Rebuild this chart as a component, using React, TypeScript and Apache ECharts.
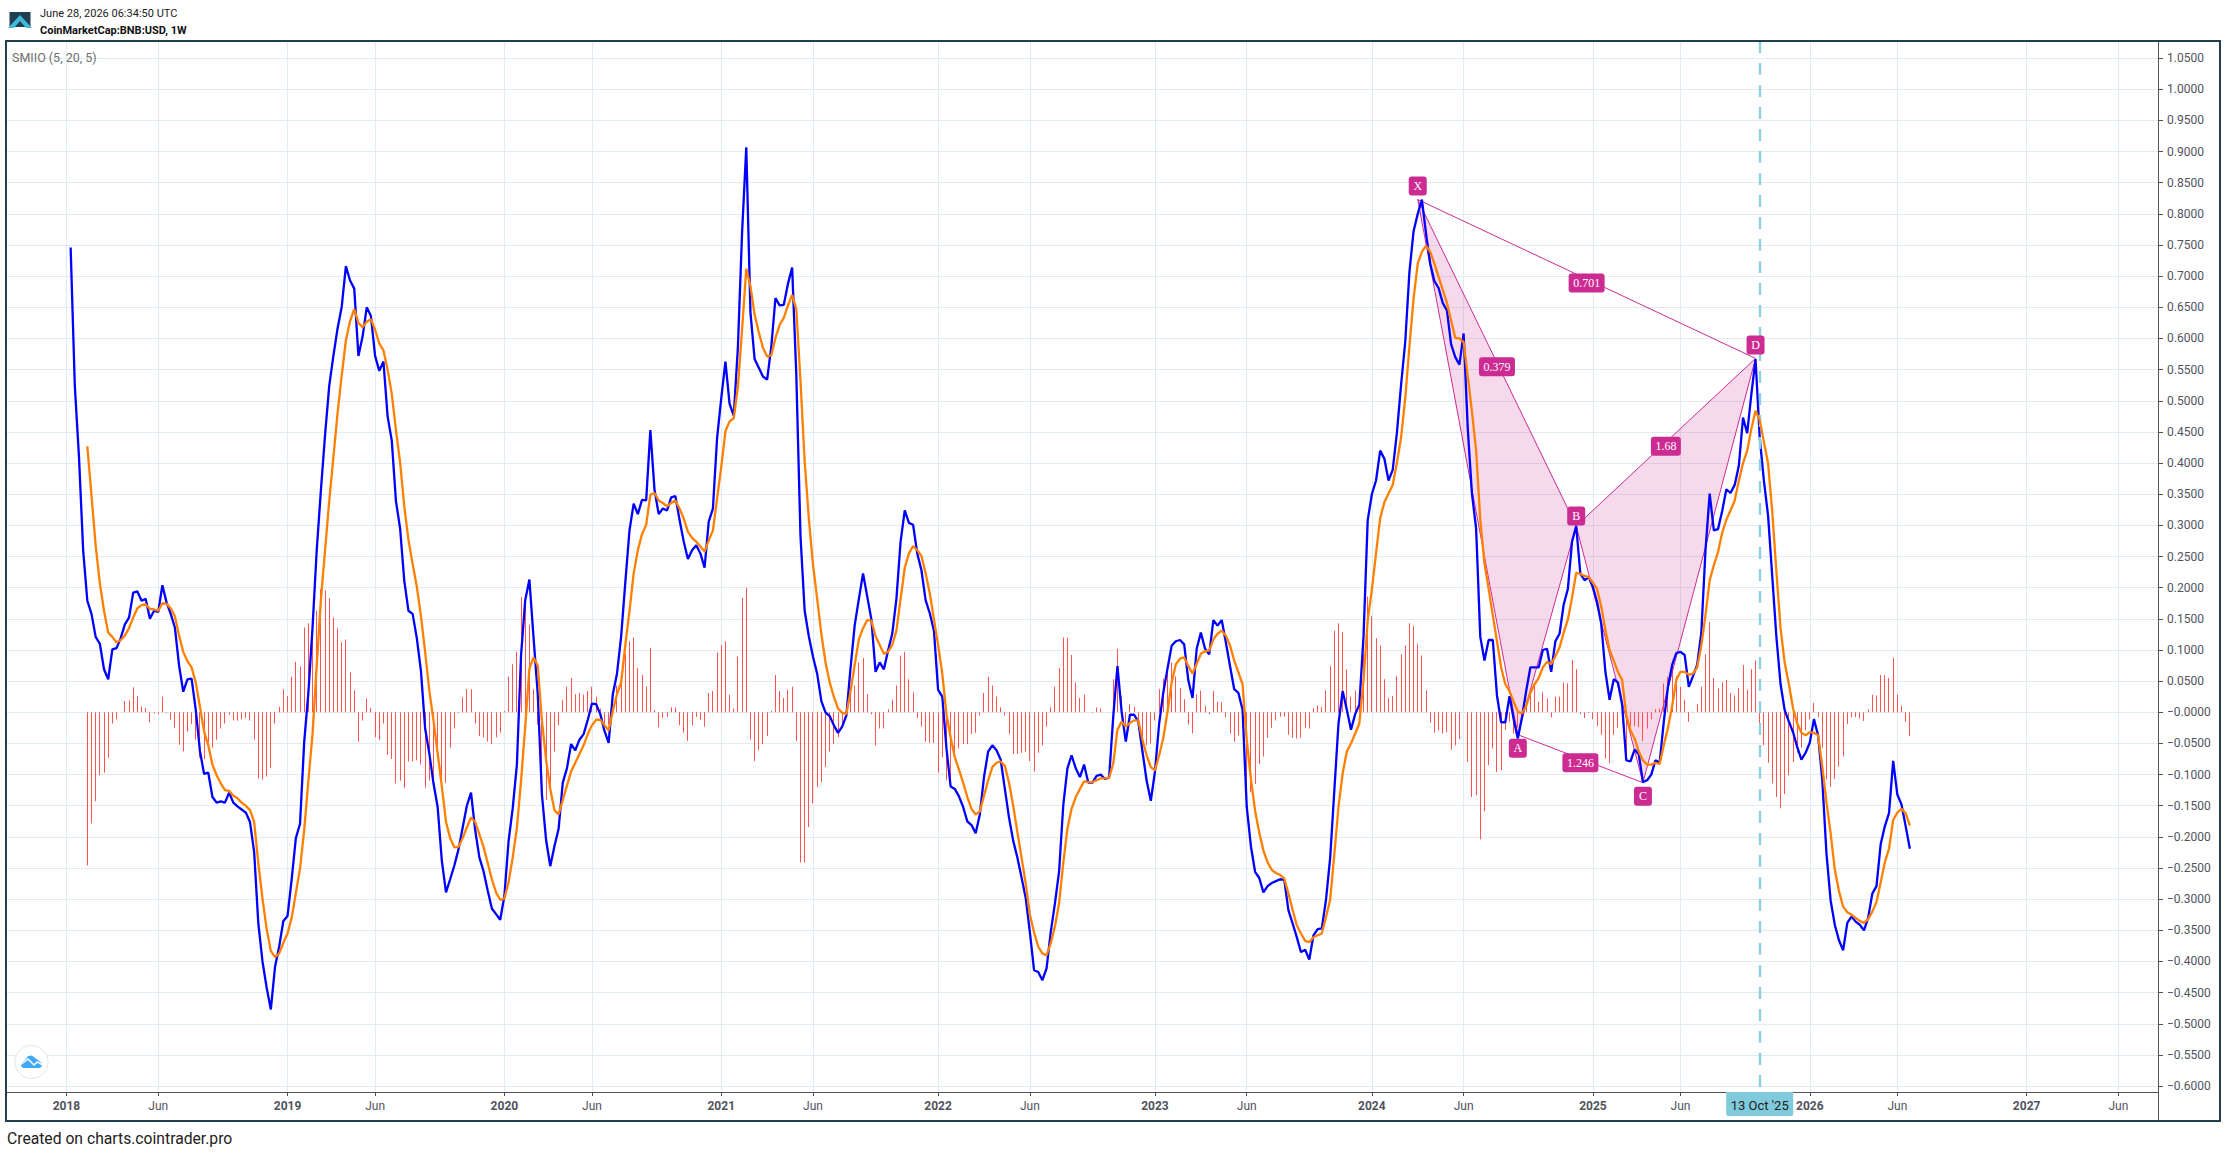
import React, { useEffect, useRef } from "react";
import * as echarts from "echarts";

// Weekly bars: first Monday shown on the axis is 25 Sep 2017, 516 bars in the time scale
const firstWeek = "2017-09-25";
const weekCount = 516;
const blueStart = 15;
const signalStart = 19;

const tickDates = ["2018-01-01","2018-06-04","2019-01-07","2019-06-03","2020-01-06","2020-06-01","2021-01-04","2021-06-07","2022-01-03","2022-06-06","2023-01-02","2023-06-05","2024-01-01","2024-06-03","2025-01-06","2025-06-02","2026-01-05","2026-06-01","2027-01-04","2027-06-07"];
const tickLabels = ["2018","Jun","2019","Jun","2020","Jun","2021","Jun","2022","Jun","2023","Jun","2024","Jun","2025","Jun","2026","Jun","2027","Jun"];
const yTicks = [1.05,1,0.95,0.9,0.85,0.8,0.75,0.7,0.65,0.6,0.55,0.5,0.45,0.4,0.35,0.3,0.25,0.2,0.15,0.1,0.05,0,-0.05,-0.1,-0.15,-0.2,-0.25,-0.3,-0.35,-0.4,-0.45,-0.5,-0.55,-0.6];

const smiValues = [
.746,.524,.41,.26,.179,
.158,.121,.11,.069,.053,.101,.103,.119,.141,.152,
.192,.194,.179,.182,.15,.163,.161,.204,.176,.158,
.136,.075,.033,.053,.054,.004,-.062,-.099,-.097,-.136,
-.145,-.143,-.145,-.129,-.145,-.151,-.156,-.161,-.176,-.224,
-.339,-.4,-.442,-.477,-.409,-.376,-.335,-.327,-.268,-.202,
-.179,-.048,.031,.136,.26,.356,.445,.524,.572,.616,
.651,.716,.693,.68,.572,.603,.65,.636,.572,.548,
.563,.475,.436,.339,.295,.211,.163,.158,.119,.066,
-.026,-.066,-.114,-.152,-.238,-.289,-.268,-.246,-.22,-.185,
-.15,-.129,-.189,-.233,-.255,-.286,-.315,-.324,-.333,-.295,
-.207,-.154,-.084,.092,.18,.213,.119,.03,-.132,-.205,
-.247,-.215,-.187,-.113,-.09,-.051,-.061,-.044,-.035,-.012,
.014,.013,-.003,-.03,-.049,.029,.062,.122,.209,.292,
.335,.318,.341,.34,.453,.357,.318,.327,.324,.345,
.347,.309,.274,.246,.26,.268,.255,.232,.306,.327,
.44,.504,.563,.495,.476,.587,.771,.907,.642,.567,
.553,.539,.534,.587,.665,.653,.654,.688,.714,.541,
.283,.163,.122,.089,.062,.018,0,-.006,-.021,-.033,
-.023,-.005,.071,.14,.182,.223,.186,.149,.065,.08,
.069,.099,.126,.182,.274,.324,.304,.301,.255,.228,
.18,.159,.131,.036,.025,-.058,-.119,-.123,-.135,-.152,
-.175,-.181,-.194,-.164,-.104,-.063,-.053,-.061,-.076,-.123,
-.169,-.206,-.233,-.265,-.298,-.353,-.414,-.417,-.43,-.411,
-.353,-.307,-.256,-.15,-.09,-.069,-.09,-.104,-.084,-.113,
-.113,-.102,-.1,-.107,-.105,-.006,.074,.001,-.047,-.004,
-.004,-.015,-.063,-.11,-.142,-.095,-.018,.032,.07,.107,
.114,.116,.109,.051,.023,.102,.128,.102,.093,.148,
.139,.148,.112,.074,.037,.031,.004,-.152,-.215,-.256,
-.266,-.289,-.279,-.274,-.271,-.268,-.269,-.318,-.339,-.361,
-.385,-.381,-.397,-.358,-.348,-.347,-.301,-.234,-.126,-.018,
.034,.004,-.028,-.003,.012,.121,.308,.35,.372,.42,
.407,.372,.389,.448,.525,.594,.706,.772,.8,.823,
.768,.72,.692,.681,.657,.645,.591,.57,.558,.608,
.455,.351,.295,.121,.083,.116,.116,.027,-.016,-.016,
.026,-.011,-.042,-.008,.034,.072,.072,.072,.1,.102,
.065,.114,.126,.173,.198,.274,.299,.222,.212,.217,
.201,.177,.142,.065,.02,.053,.048,.013,-.077,-.079,
-.06,-.067,-.112,-.109,-.1,-.077,-.081,-.015,.041,.076,
.095,.097,.092,.041,.058,.076,.128,.26,.351,.292,
.294,.323,.358,.352,.365,.396,.473,.448,.511,.567,
.441,.372,.316,.219,.121,.045,.003,-.015,-.032,-.056,
-.076,-.065,-.049,-.011,-.037,-.108,-.226,-.302,-.341,-.366,
-.382,-.338,-.328,-.336,-.341,-.35,-.33,-.291,-.279,-.212,
-.183,-.162,-.078,-.132,-.148,-.183,-.219];

const signalValues = [
.427,
.348,.268,.207,.163,.128,.121,.112,.116,.123,.135,
.152,.167,.172,.173,.166,.165,.163,.175,.174,.167,
.154,.123,.097,.082,.072,.048,.009,-.031,-.053,-.084,
-.101,-.114,-.125,-.126,-.134,-.138,-.145,-.15,-.157,-.176,
-.242,-.299,-.348,-.383,-.393,-.387,-.37,-.355,-.33,-.29,
-.251,-.189,-.11,-.035,.075,.18,.26,.339,.409,.48,
.541,.597,.628,.647,.625,.618,.627,.631,.614,.592,
.581,.55,.511,.453,.401,.33,.277,.238,.202,.154,
.097,.035,-.013,-.066,-.119,-.176,-.202,-.217,-.216,-.202,
-.185,-.169,-.176,-.196,-.216,-.242,-.268,-.289,-.301,-.299,
-.273,-.233,-.185,-.11,-.022,.07,.088,.075,-.013,-.076,
-.123,-.157,-.164,-.141,-.118,-.095,-.081,-.067,-.053,-.035,
-.021,-.012,-.012,-.021,-.029,.002,.029,.048,.108,.163,
.223,.26,.286,.301,.349,.352,.34,.336,.331,.336,
.34,.327,.311,.29,.28,.274,.266,.258,.276,.292,
.343,.394,.451,.467,.472,.523,.615,.712,.684,.638,
.61,.585,.571,.573,.601,.622,.633,.653,.67,.647,
.532,.403,.311,.237,.182,.126,.08,.048,.025,.006,
-.001,-.003,.034,.076,.117,.135,.148,.147,.122,.108,
.094,.097,.108,.131,.182,.232,.255,.267,.26,.251,
.223,.191,.149,.108,.062,-.003,-.04,-.072,-.092,-.113,
-.136,-.155,-.164,-.159,-.134,-.109,-.088,-.081,-.079,-.086,
-.113,-.15,-.192,-.233,-.275,-.325,-.353,-.376,-.387,-.39,
-.371,-.344,-.307,-.242,-.187,-.155,-.136,-.123,-.111,-.112,
-.112,-.109,-.106,-.106,-.105,-.082,-.028,-.015,-.023,-.017,
-.013,-.013,-.044,-.069,-.088,-.093,-.069,-.041,.001,.048,
.077,.086,.088,.074,.062,.078,.094,.098,.099,.117,
.126,.131,.123,.107,.083,.064,.045,-.044,-.107,-.158,
-.193,-.222,-.241,-.253,-.258,-.261,-.267,-.291,-.317,-.342,
-.355,-.367,-.369,-.361,-.358,-.355,-.329,-.301,-.228,-.152,
-.098,-.063,-.05,-.034,-.018,.051,.147,.197,.255,.312,
.337,.351,.365,.4,.441,.504,.587,.664,.72,.739,
.749,.739,.72,.699,.678,.657,.629,.601,.6,.594,
.539,.483,.42,.309,.239,.198,.156,.114,.072,.045,
.034,.017,.001,-.002,.01,.031,.045,.055,.072,.081,
.077,.09,.104,.128,.149,.184,.224,.222,.219,.217,
.208,.198,.17,.132,.1,.083,.065,.052,-.004,-.029,
-.042,-.063,-.077,-.084,-.084,-.081,-.083,-.053,-.025,.01,
.052,.065,.065,.06,.062,.072,.107,.156,.212,.236,
.257,.288,.309,.324,.34,.372,.4,.42,.455,.484,
.469,.434,.4,.323,.226,.135,.079,.045,.006,-.018,
-.033,-.037,-.032,-.033,-.037,-.087,-.144,-.194,-.252,-.287,
-.312,-.321,-.325,-.33,-.335,-.338,-.332,-.32,-.305,-.273,
-.241,-.219,-.173,-.161,-.155,-.162,-.182];

const histogramValues = [
-.246,-.178,-.143,-.101,-.097,-.073,-.018,-.011,0,.018,.019,
.04,.026,.009,.007,-.016,-.002,-.003,.025,-.001,-.012,
-.025,-.052,-.063,-.031,-.019,-.044,-.073,-.075,-.048,-.057,
-.044,-.026,-.018,-.004,-.013,-.013,-.011,-.009,-.013,-.044,
-.106,-.108,-.103,-.09,-.018,.009,.037,.026,.057,.081,
.073,.136,.143,.114,.163,.198,.196,.183,.152,.135,
.112,.117,.064,.035,-.047,-.013,.022,.007,-.04,-.044,
-.018,-.068,-.075,-.114,-.11,-.121,-.079,-.079,-.077,-.084,
-.121,-.11,-.119,-.066,-.117,-.113,-.057,-.026,-.001,.024,
.037,.037,-.018,-.038,-.04,-.047,-.051,-.04,-.033,.002,
.057,.077,.097,.185,.189,.141,.037,-.02,-.09,-.141,
-.123,-.063,-.021,.02,.041,.055,.029,.031,.028,.034,
.041,.025,.006,-.02,-.02,.029,.043,.051,.094,.114,
.12,.071,.06,.041,.103,.004,-.024,-.009,-.007,.008,
.008,-.021,-.033,-.046,-.021,-.007,-.012,-.023,.031,.034,
.096,.108,.114,.028,.006,.089,.184,.2,-.044,-.078,
-.061,-.051,-.038,.002,.06,.034,.023,.036,.041,-.046,
-.241,-.241,-.184,-.146,-.12,-.112,-.088,-.063,-.051,-.04,
-.024,-.003,.034,.043,.08,.087,.029,-.003,-.053,-.026,
-.026,.005,.02,.043,.091,.097,.053,.032,-.009,-.023,
-.047,-.049,-.049,-.097,-.072,-.109,-.109,-.072,-.058,-.051,
-.051,-.035,-.033,-.005,.031,.057,.043,.025,.008,-.005,
-.035,-.067,-.067,-.065,-.063,-.078,-.095,-.065,-.053,-.023,
.008,.041,.071,.12,.12,.092,.048,.023,.028,0,
-.001,.008,.006,0,0,.053,.102,.026,-.02,.013,
.009,-.02,-.053,-.053,-.05,-.013,.037,.054,.07,.08,
.058,.039,.021,-.02,-.034,.029,.035,.01,-.003,.034,
.017,.016,-.008,-.034,-.047,-.037,-.018,-.131,-.128,-.115,
-.083,-.071,-.041,-.025,-.013,-.007,-.007,-.036,-.041,-.042,
-.041,-.025,-.026,.007,.011,.008,.035,.074,.131,.143,
.129,.069,.025,.035,.03,.093,.186,.154,.119,.107,
.053,.023,.026,.058,.093,.107,.143,.138,.11,.091,
.035,-.017,-.033,-.029,-.034,-.032,-.06,-.053,-.043,0,
-.08,-.136,-.133,-.204,-.159,-.085,-.058,-.096,-.093,-.028,
-.015,-.034,-.025,-.01,.02,.027,.045,.017,.032,.022,
-.008,.025,.025,.048,.046,.084,.069,-.003,-.009,-.001,
-.011,-.022,-.036,-.074,-.082,-.036,-.025,-.018,-.07,-.022,
-.022,-.024,-.046,-.026,-.011,.005,.006,.046,.057,.072,
.058,.041,.02,-.015,.001,.013,.041,.093,.145,.055,
.038,.048,.052,.031,.027,.039,.076,.036,.069,.083,
-.029,-.053,-.081,-.114,-.136,-.154,-.131,-.101,-.08,-.065,
-.057,-.029,-.011,.015,-.008,-.057,-.108,-.12,-.107,-.087,
-.071,-.019,-.008,-.008,-.01,-.014,.005,.028,.027,.06,
.06,.055,.087,.028,.01,-.015,-.038];

// XABCD pattern
const patternNames = ["X", "A", "B", "C", "D"];
const patternWeeks = [338, 362, 376, 392, 419];
const patternValues = [0.823, -0.036, 0.299, -0.113, 0.568];
const patternLabelAbove = [true, false, true, false, true];
const ratioLabels = ["0.379", "1.246", "1.68", "0.701"];
const ratioFrom = [0, 1, 2, 0];
const ratioTo = [2, 3, 4, 4];
const cursorWeek = 420;
const cursorLabel = "13 Oct '25";

const Y_MIN = -0.6095;
const Y_MAX = 1.0775;
const PINK = "#CC2B92";
const SANS = "Roboto, sans-serif";

const weeks: string[] = [];
{
  const t0 = Date.parse(firstWeek + "T00:00:00Z");
  for (let i = 0; i < weekCount; i++) weeks.push(new Date(t0 + i * 7 * 86400000).toISOString().slice(0, 10));
}
const pad = (n: number, values: number[]) => (new Array(n).fill(null) as (number | null)[]).concat(values);
const isTick = (_: number, value: string) => tickDates.indexOf(value) >= 0;

export default function App() {
  const ref = useRef<HTMLDivElement>(null);
  useEffect(() => {
    if (!ref.current) return;
    document.body.style.margin = "0";
    const chart = echarts.init(ref.current, undefined, { renderer: "svg" });
    const pts = (ids: number[], api: any) => ids.map((k) => api.coord([patternWeeks[k], patternValues[k]]));
    const option: any = {
      animation: false,
      backgroundColor: "#ffffff",
      grid: { left: 6, top: 41, width: 2152, height: 1051, containLabel: false },
      tooltip: { show: false },
      xAxis: {
        type: "category",
        data: weeks,
        boundaryGap: true,
        axisLine: { show: true, onZero: false, lineStyle: { color: "#50535E", width: 1 } },
        axisTick: { show: true, alignWithLabel: true, length: 4, interval: isTick, lineStyle: { color: "#50535E" } },
        splitLine: { show: true, alignWithLabel: true, interval: isTick, lineStyle: { color: "#E1ECF2", width: 1 } },
        axisLabel: {
          interval: isTick,
          margin: 8,
          color: "#50535E",
          fontFamily: SANS,
          fontSize: 12,
          hideOverlap: false,
          formatter: (value: string) => {
            const t = tickLabels[tickDates.indexOf(value)];
            return t === "Jun" ? t : "{y|" + t + "}";
          },
          rich: { y: { fontWeight: "bold", fontSize: 12, color: "#50535E", fontFamily: SANS } },
        },
      },
      yAxis: {
        type: "value",
        position: "right",
        min: Y_MIN,
        max: Y_MAX,
        axisLine: { show: true, onZero: false, lineStyle: { color: "#50535E", width: 1 } },
        axisTick: { show: true, length: 5, customValues: yTicks, lineStyle: { color: "#50535E" } },
        splitLine: { show: true, lineStyle: { color: "#E1ECF2", width: 1 } },
        axisLabel: {
          customValues: yTicks,
          margin: 9,
          color: "#50535E",
          fontFamily: SANS,
          fontSize: 12,
          showMinLabel: true,
          showMaxLabel: true,
          formatter: (v: number) => (v <= 0 ? "\u2212" : "") + Math.abs(v).toFixed(4),
        },
      },
      series: [
        {
          type: "custom",
          z: 1,
          silent: true,
          data: [[0, 0]],
          renderItem: (_: any, api: any) => ({
            type: "group",
            children: [
              { type: "polygon", shape: { points: pts([0, 1, 2], api) }, style: { fill: "rgba(204,43,146,0.18)", stroke: "none" } },
              { type: "polygon", shape: { points: pts([2, 3, 4], api) }, style: { fill: "rgba(204,43,146,0.18)", stroke: "none" } },
            ],
          }),
        },
        {
          name: "Histogram",
          type: "custom",
          z: 2,
          silent: true,
          encode: { x: 0, y: 1 },
          data: histogramValues.map((v, k) => [k + signalStart, v]),
          renderItem: (_: any, api: any) => {
            const top = api.coord([api.value(0), api.value(1)]);
            const base = api.coord([api.value(0), 0]);
            return {
              type: "rect",
              shape: { x: Math.round(top[0] - 0.5), y: Math.min(top[1], base[1]), width: 1, height: Math.abs(base[1] - top[1]) },
              style: { fill: "#FF5252" },
            };
          },
        },
        {
          type: "custom",
          z: 3,
          silent: true,
          data: [[0, 0]],
          renderItem: (_: any, api: any) => ({
            type: "group",
            children: [
              { type: "polyline", shape: { points: pts([0, 1, 2, 3, 4, 2, 0, 4], api) }, style: { fill: "none", stroke: PINK, lineWidth: 1 } },
              { type: "polyline", shape: { points: pts([1, 3], api) }, style: { fill: "none", stroke: PINK, lineWidth: 1 } },
            ],
          }),
        },
        {
          name: "SMI",
          type: "line",
          z: 4,
          silent: true,
          showSymbol: false,
          symbol: "none",
          smooth: false,
          connectNulls: false,
          lineStyle: { color: "#0000FF", width: 2.3 },
          data: pad(blueStart, smiValues),
          markLine: {
            silent: true,
            symbol: "none",
            animation: false,
            label: { show: false },
            lineStyle: { color: "#8AD0DD", type: [12, 10], dashOffset: 17, width: 2.4 },
            data: [{ xAxis: weeks[cursorWeek] }],
          },
        },
        {
          name: "Signal",
          type: "line",
          z: 5,
          silent: true,
          showSymbol: false,
          symbol: "none",
          smooth: false,
          lineStyle: { color: "#FF7F00", width: 2.3 },
          data: pad(signalStart, signalValues),
        },
        {
          type: "custom",
          z: 6,
          silent: true,
          clip: false,
          data: [[0, 0]],
          renderItem: (_: any, api: any) => {
            const children: any[] = [];
            const tag = (cx: number, cy: number, text: string) => {
              const w = text.length <= 1 ? 18 : text.length * 6 + 6;
              children.push({ type: "rect", shape: { x: cx - w / 2, y: cy - 9.5, width: w, height: 19, r: 3 }, style: { fill: PINK } });
              children.push({
                type: "text",
                style: { x: cx, y: cy, text, fill: "#ffffff", align: "center", verticalAlign: "middle", font: "12px 'Liberation Serif', serif" },
              });
            };
            patternNames.forEach((n, k) => {
              const p = api.coord([patternWeeks[k], patternValues[k]]);
              const d = n === "B" ? 10 : 13.5;
              tag(p[0], p[1] + (patternLabelAbove[k] ? -d : d), n);
            });
            ratioLabels.forEach((t, k) => {
              const a = api.coord([patternWeeks[ratioFrom[k]], patternValues[ratioFrom[k]]]);
              const b = api.coord([patternWeeks[ratioTo[k]], patternValues[ratioTo[k]]]);
              tag((a[0] + b[0]) / 2, (a[1] + b[1]) / 2 + 4, t);
            });
            const c = api.coord([cursorWeek, Y_MIN]);
            children.push({ type: "rect", shape: { x: c[0] - 33.5, y: c[1], width: 67, height: 24, r: [0, 0, 2, 2] }, style: { fill: "#7FCBDB" } });
            children.push({
              type: "text",
              style: { x: c[0], y: c[1] + 13, text: cursorLabel, fill: "#222222", align: "center", verticalAlign: "middle", font: "13px Roboto, sans-serif" },
            });
            return { type: "group", children };
          },
        },
      ],
      graphic: [
        { type: "rect", silent: true, z: 100, shape: { x: 6, y: 41, width: 2214, height: 1080 }, style: { fill: "none", stroke: "#21404F", lineWidth: 2 } },
        { type: "line", silent: true, z: 99, shape: { x1: 2158.5, y1: 41, x2: 2158.5, y2: 1121 }, style: { stroke: "#50535E", lineWidth: 1 } },
        { type: "rect", silent: true, z: 50, shape: { x: 9.5, y: 12, width: 21, height: 15 }, style: { fill: "#1F3F55" } },
        { type: "polygon", silent: true, z: 51, shape: { points: [[8, 28], [20, 15], [32, 28], [26, 28], [20, 21], [14, 28]] }, style: { fill: "#3FBAD8" } },
        { type: "text", silent: true, z: 50, style: { x: 40, y: 13, text: "June 28, 2026 06:34:50 UTC", fill: "#1A1A1A", verticalAlign: "middle", font: "11px Roboto, sans-serif" } },
        { type: "text", silent: true, z: 50, style: { x: 40, y: 30, text: "CoinMarketCap:BNB:USD, 1W", fill: "#111111", verticalAlign: "middle", font: "bold 11px Roboto, sans-serif" } },
        { type: "text", silent: true, z: 50, style: { x: 12, y: 57, text: "SMIIO (5, 20, 5)", fill: "#6E6E6E", verticalAlign: "middle", font: "12.5px Roboto, sans-serif" } },
        { type: "text", silent: true, z: 50, style: { x: 7, y: 1138, text: "Created on charts.cointrader.pro", fill: "#222222", verticalAlign: "middle", font: "15.7px Roboto, sans-serif" } },
        { type: "circle", silent: true, z: 50, shape: { cx: 31.5, cy: 1062, r: 16.5 }, style: { fill: "#ffffff", stroke: "#E4E4E4", lineWidth: 1 } },
        { type: "polygon", silent: true, z: 51, shape: { points: [[21, 1066], [21.5, 1063], [25, 1060], [28, 1056], [32, 1055.5], [35, 1058], [38, 1060], [41.5, 1063], [42, 1066], [40, 1068], [23, 1068]] }, style: { fill: "#3FA9F5" } },
        { type: "polyline", silent: true, z: 52, shape: { points: [[20, 1065], [28, 1059], [34, 1065], [37, 1062], [43, 1065]] }, style: { stroke: "#ffffff", fill: "none", lineWidth: 1.5 } },
      ],
    };
    chart.setOption(option);
    return () => chart.dispose();
  }, []);
  return (
    <div style={{ position: "fixed", left: 0, top: 0, width: 2226, height: 1152, background: "#fff" }}>
      <div ref={ref} style={{ width: 2226, height: 1152 }} />
    </div>
  );
}
